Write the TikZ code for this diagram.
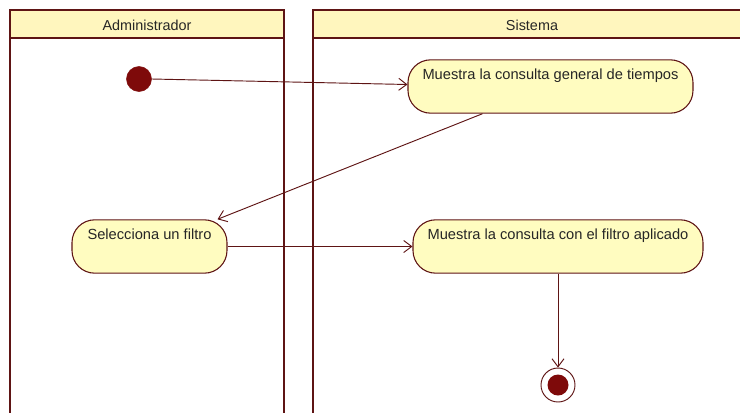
\documentclass[tikz,border=0pt]{standalone}
\usepackage{fontspec}
\setmainfont{Liberation Sans}
\usetikzlibrary{arrows.meta,calc}
\definecolor{brd}{HTML}{5E1414}
\definecolor{nodefill}{HTML}{FFFCC0}
\definecolor{headfill}{HTML}{FFF6BE}
\definecolor{dotfill}{HTML}{7E0A0A}
\tikzset{
  lane/.style={draw=brd, line width=1.6pt},
  head/.style={draw=brd, line width=1.6pt, fill=headfill},
  act/.style={draw=brd, line width=0.8pt, fill=nodefill, rounded corners=17pt,
    font=\fontsize{11pt}{13pt}\selectfont, inner xsep=0pt, inner ysep=2.5pt,
    text height=12pt, text depth=23pt, text=black!85},
  flow/.style={draw=brd, line width=0.7pt, -{Straight Barb[length=6pt,width=9pt]}},
  hdtext/.style={font=\fontsize{10.8pt}{12pt}\selectfont, text=black!85},
}
\begin{document}
\begin{tikzpicture}[x=0.75pt,y=-0.75pt]
\useasboundingbox (0,0) rectangle (740,412);
\clip (0,0) rectangle (740,412);
\fill[white] (0,0) rectangle (740,412);
% lanes
\draw[head] (10,10) rectangle (284,38);
\draw[lane] (10,38) -- (10,420);
\draw[lane] (284,38) -- (284,420);
\draw[head] (313,10) rectangle (751,38);
\draw[lane] (313,38) -- (313,420);
\draw[lane] (751,38) -- (751,420);
\node[hdtext] (hadm) at (147,25) {Administrador};
\node[hdtext] (hsis) at (532,25) {Sistema};
% nodes
\node[circle, fill=dotfill, draw=dotfill, minimum size=25pt*0.75, inner sep=0pt] (ini) at (139,79) {};
\node[act, minimum width=285*0.75pt] (n1) at (550.5,86.5) {Muestra la consulta general de tiempos};
\node[act, minimum width=155*0.75pt] (sel) at (149.5,246.5) {Selecciona un filtro};
\node[act, minimum width=290*0.75pt] (n2) at (558,246.5) {Muestra la consulta con el filtro aplicado};
\node[circle, draw=brd, line width=0.7pt, fill=white, minimum size=34*0.75pt, inner sep=0pt] (fin) at (558,385) {};
\node[circle, fill=dotfill, minimum size=21*0.75pt, inner sep=0pt] (finin) at (fin.center) {};
% flows
\draw[flow] (ini.east) -- ($(n1.west)+(0,-2)$);
\draw[flow] ($(n1.south)+(-68,0)$) -- ($(sel.north east)+(-10,0)$);
\draw[flow] (sel.east) -- (n2.west);
\draw[flow] (n2.south) -- (fin.north);
\end{tikzpicture}
\end{document}
